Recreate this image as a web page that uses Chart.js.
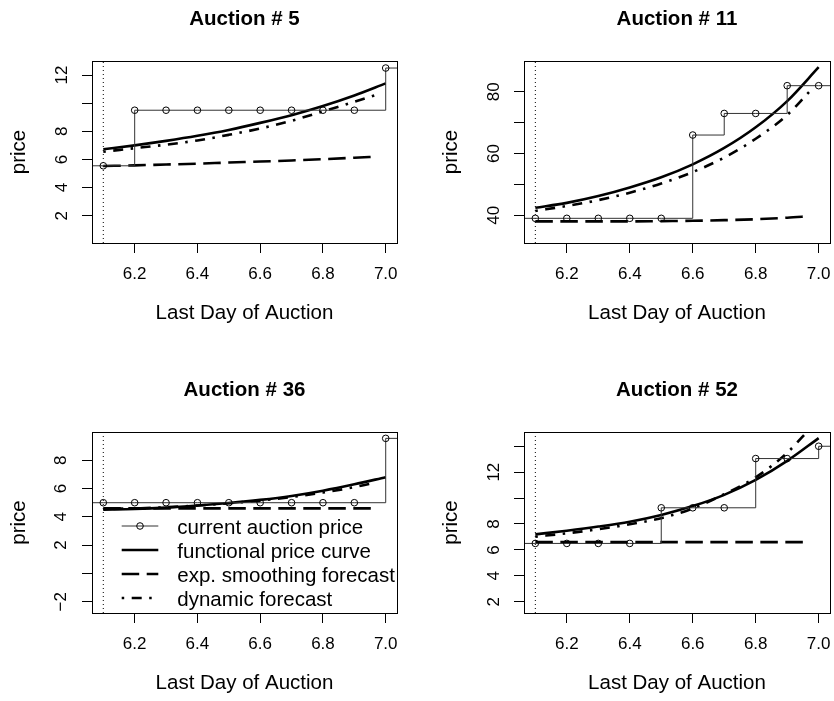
<!DOCTYPE html>
<html>
<head>
<meta charset="utf-8">
<title>Auction price forecasts</title>
<script src="https://cdn.jsdelivr.net/npm/chart.js@4.4.1/dist/chart.umd.min.js"></script>
<style>
  html, body { margin: 0; padding: 0; background: #fff; }
  #wrap { position: relative; width: 834px; height: 701px; overflow: hidden; }
  #wrap canvas { position: absolute; }
</style>
</head>
<body>
<div id="wrap">
  <canvas id="a5" style="left:0px;top:0px" width="417" height="350"></canvas>
  <canvas id="a11" style="left:417px;top:0px" width="417" height="350"></canvas>
  <canvas id="a36" style="left:0px;top:350px" width="417" height="351"></canvas>
  <canvas id="a52" style="left:417px;top:350px" width="417" height="351"></canvas>
</div>
<script>
// days at which the current price was observed, and the forecast grid
const days = [6.1, 6.2, 6.3, 6.4, 6.5, 6.6, 6.7, 6.8, 6.9, 7.0];
const forecastDays = [6.1, 6.2, 6.3, 6.4, 6.5, 6.6, 6.7, 6.8, 6.9, 6.97];
const stepStart = 6.0; // the step function runs off both ends of the plot
const stepEnd = 7.1;
const currentDay = 6.1;
const xTicks = [6.2, 6.4, 6.6, 6.8, 7.0];
const xRange = [6.064, 7.036];

// Auction # 5
const price5 = [5.55, 9.5, 9.5, 9.5, 9.5, 9.5, 9.5, 9.5, 9.5, 12.5];
const curve5 = [6.72, 7.0, 7.32, 7.68, 8.1, 8.6, 9.15, 9.8, 10.55, 11.41];
const smooth5 = [5.53, 5.58, 5.64, 5.7, 5.78, 5.85, 5.93, 6.02, 6.12, 6.2];
const dynamic5 = [6.55, 6.8, 7.05, 7.35, 7.75, 8.2, 8.75, 9.42, 10.1, 10.6];
const yTicks5 = [2, 4, 6, 8, 10, 12];
const yLabels5 = ['2', '4', '6', '8', '', '12'];
const yRange5 = [0.06, 13.0];

// Auction # 11
const price11 = [39, 39, 39, 39, 39, 66, 73, 73, 82, 82];
const curve11 = [42.4, 44.0, 46.2, 49.0, 52.3, 56.5, 61.8, 68.5, 77.0, 88.0];
const smooth11 = [38.0, 38.0, 38.0, 38.0, 38.1, 38.2, 38.4, 38.7, 39.2, 39.7];
const dynamic11 = [41.4, 43.0, 44.9, 47.3, 50.3, 54.0, 58.7, 64.8, 72.5, 80.0];
const yTicks11 = [40, 50, 60, 70, 80];
const yLabels11 = ['40', '', '60', '', '80'];
const yRange11 = [31, 90];

// Auction # 36
const price36 = [5.0, 5.0, 5.0, 5.0, 5.0, 5.0, 5.0, 5.0, 5.0, 9.55];
const curve36 = [4.5, 4.55, 4.65, 4.8, 4.98, 5.2, 5.48, 5.85, 6.3, 6.8];
const smooth36 = [4.6, 4.6, 4.6, 4.6, 4.6, 4.6, 4.6, 4.6, 4.6, 4.6];
const dynamic36 = [4.55, 4.6, 4.68, 4.8, 4.96, 5.15, 5.4, 5.72, 6.1, 6.45];
const yTicks36 = [-2, 0, 2, 4, 6, 8];
const yLabels36 = ['\u22122', '', '2', '4', '6', '8'];
const yRange36 = [-2.8, 10.0];

// Auction # 52
const price52 = [6.5, 6.5, 6.5, 6.5, 9.25, 9.25, 9.25, 13.05, 13.05, 14.0];
const curve52 = [7.2, 7.48, 7.8, 8.18, 8.7, 9.38, 10.25, 11.4, 12.87, 14.63];
const smooth52 = [6.6, 6.6, 6.6, 6.6, 6.6, 6.6, 6.6, 6.6, 6.6, 6.6];
const dynamic52 = [7.02, 7.28, 7.6, 7.98, 8.45, 9.2, 10.3, 11.6, 13.5, 15.3];
const yTicks52 = [2, 4, 6, 8, 10, 12, 14];
const yLabels52 = ['2', '4', '6', '8', '', '12', ''];
const yRange52 = [1.13, 15.1];

const legendNames = ['current auction price', 'functional price curve',
  'exp. smoothing forecast', 'dynamic forecast'];

const FONT = "'Liberation Sans', Arial, Helvetica, sans-serif";

function zip(xs, ys) {
  return xs.map((x, i) => ({ x: x, y: ys[i] }));
}

function stepPoints(values) {
  const pts = zip(days, values);
  pts.unshift({ x: stepStart, y: values[0] });
  pts.push({ x: stepEnd, y: values[values.length - 1] });
  return pts;
}

// R style box round the plot region
const frame = {
  id: 'frame',
  afterDraw(chart) {
    const { ctx, chartArea: a } = chart;
    ctx.save();
    ctx.strokeStyle = '#000';
    ctx.lineWidth = 1;
    ctx.strokeRect(Math.round(a.left) + 0.5, Math.round(a.top) + 0.5,
      Math.round(a.right - a.left), Math.round(a.bottom - a.top));
    ctx.restore();
  }
};

// legend without border, drawn inside the plot region
const insideLegend = {
  id: 'insideLegend',
  afterDraw(chart) {
    const { ctx, chartArea: a } = chart;
    const x0 = a.left + 29.7, x1 = a.left + 66.3, tx = a.left + 85.3;
    ctx.save();
    ctx.font = '20.5px ' + FONT;
    ctx.textBaseline = 'alphabetic';
    ctx.textAlign = 'left';
    legendNames.forEach((name, i) => {
      const ds = chart.data.datasets[i];
      const base = a.top + 102 + 24 * i;
      const ly = base - 8;
      ctx.strokeStyle = ds.borderColor;
      ctx.lineWidth = ds.borderWidth;
      ctx.setLineDash(ds.borderDash || []);
      ctx.beginPath();
      ctx.moveTo(x0, ly);
      ctx.lineTo(x1, ly);
      ctx.stroke();
      ctx.setLineDash([]);
      if (i === 0) {
        ctx.lineWidth = 1;
        ctx.strokeStyle = '#000';
        ctx.beginPath();
        ctx.arc((x0 + x1) / 2, ly, 3.3, 0, Math.PI * 2);
        ctx.stroke();
      }
      ctx.fillStyle = '#000';
      ctx.fillText(name, tx, base);
    });
    ctx.restore();
  }
};

function auctionChart(id, title, box, titleMid, series, withLegend) {
  const canvas = document.getElementById(id);
  const W = canvas.width, H = canvas.height;
  const yAxisW = 90, xAxisH = 85;
  const n = days.length + 2;
  const pointSizes = stepPoints(series.price).map((p, i) => (i === 0 || i === n - 1) ? 0 : 3.3);

  return new Chart(canvas, {
    type: 'line',
    data: {
      datasets: [
        {
          label: legendNames[0],
          data: stepPoints(series.price),
          stepped: true,
          borderColor: '#333',
          borderWidth: 1,
          pointRadius: pointSizes,
          pointBorderColor: '#000',
          pointBackgroundColor: 'rgba(0,0,0,0)',
          pointBorderWidth: 1,
          clip: 0
        },
        {
          label: legendNames[1],
          data: zip(days, series.curve),
          borderColor: '#000',
          borderWidth: 2.6,
          pointRadius: 0,
          cubicInterpolationMode: 'monotone',
          clip: 0
        },
        {
          label: legendNames[2],
          data: zip(forecastDays, series.smooth),
          borderColor: '#000',
          borderWidth: 2.6,
          borderDash: [17.5, 7.5],
          pointRadius: 0,
          cubicInterpolationMode: 'monotone',
          clip: 0
        },
        {
          label: legendNames[3],
          data: zip(forecastDays, series.dynamic),
          borderColor: '#000',
          borderWidth: 2.6,
          borderDash: [2.5, 7.5, 10, 7.5],
          pointRadius: 0,
          cubicInterpolationMode: 'monotone',
          clip: 0
        },
        {
          label: 'now',
          data: [{ x: currentDay, y: series.yRange[0] }, { x: currentDay, y: series.yRange[1] }],
          borderColor: '#000',
          borderWidth: 1,
          borderDash: [1, 3],
          pointRadius: 0,
          clip: 0
        }
      ]
    },
    options: {
      responsive: false,
      animation: false,
      events: [],
      layout: {
        padding: { left: box.l - yAxisW, right: W - box.r, top: 0, bottom: H - box.b - xAxisH }
      },
      plugins: {
        legend: { display: false },
        tooltip: { enabled: false },
        title: {
          display: true,
          text: title,
          color: '#000',
          fullSize: false,
          font: { size: 20.5, weight: 'bold', family: FONT },
          padding: { top: titleMid - 12.3, bottom: box.t - 24.6 - (titleMid - 12.3) }
        }
      },
      scales: {
        x: {
          type: 'linear',
          min: xRange[0],
          max: xRange[1],
          afterBuildTicks: (s) => { s.ticks = xTicks.map((v) => ({ value: v })); },
          afterFit: (s) => {
            s.height = xAxisH;
            s.paddingLeft = s.paddingRight = s.paddingTop = s.paddingBottom = 0;
          },
          ticks: {
            autoSkip: false,
            maxRotation: 0,
            padding: 11.6,
            color: '#000',
            font: { size: 17, family: FONT },
            callback: (v) => Number(v).toFixed(1)
          },
          grid: { drawOnChartArea: false, tickLength: 10, tickColor: '#000', tickWidth: 1 },
          border: { display: false },
          title: {
            display: true,
            text: 'Last Day of Auction',
            color: '#000',
            font: { size: 20.5, family: FONT },
            padding: { top: 0, bottom: 2.7 }
          }
        },
        y: {
          type: 'linear',
          min: series.yRange[0],
          max: series.yRange[1],
          afterBuildTicks: (s) => { s.ticks = series.yTicks.map((v) => ({ value: v })); },
          afterFit: (s) => {
            s.width = yAxisW;
            s.paddingLeft = s.paddingRight = s.paddingTop = s.paddingBottom = 0;
          },
          ticks: {
            autoSkip: false,
            minRotation: 90,
            maxRotation: 90,
            crossAlign: 'center',
            padding: 10.5,
            color: '#000',
            font: { size: 17, family: FONT },
            callback: (v) => {
              const k = series.yTicks.indexOf(v);
              return k < 0 ? '' : series.yLabels[k];
            }
          },
          grid: { drawOnChartArea: false, tickLength: 10, tickColor: '#000', tickWidth: 1 },
          border: { display: false },
          title: {
            display: true,
            text: 'price',
            color: '#000',
            font: { size: 20.5, family: FONT },
            padding: { top: 5.2, bottom: 0 }
          }
        }
      }
    },
    plugins: withLegend ? [frame, insideLegend] : [frame]
  });
}

auctionChart('a5', 'Auction # 5', { l: 92, r: 397, t: 61, b: 243 }, 19.2,
  { price: price5, curve: curve5, smooth: smooth5, dynamic: dynamic5,
    yTicks: yTicks5, yLabels: yLabels5, yRange: yRange5 }, false);

auctionChart('a11', 'Auction # 11', { l: 107, r: 413, t: 61, b: 243 }, 19.2,
  { price: price11, curve: curve11, smooth: smooth11, dynamic: dynamic11,
    yTicks: yTicks11, yLabels: yLabels11, yRange: yRange11 }, false);

auctionChart('a36', 'Auction # 36', { l: 92, r: 397, t: 82, b: 263 }, 40.8,
  { price: price36, curve: curve36, smooth: smooth36, dynamic: dynamic36,
    yTicks: yTicks36, yLabels: yLabels36, yRange: yRange36 }, true);

auctionChart('a52', 'Auction # 52', { l: 107, r: 413, t: 82, b: 263 }, 40.8,
  { price: price52, curve: curve52, smooth: smooth52, dynamic: dynamic52,
    yTicks: yTicks52, yLabels: yLabels52, yRange: yRange52 }, false);
</script>
</body>
</html>
